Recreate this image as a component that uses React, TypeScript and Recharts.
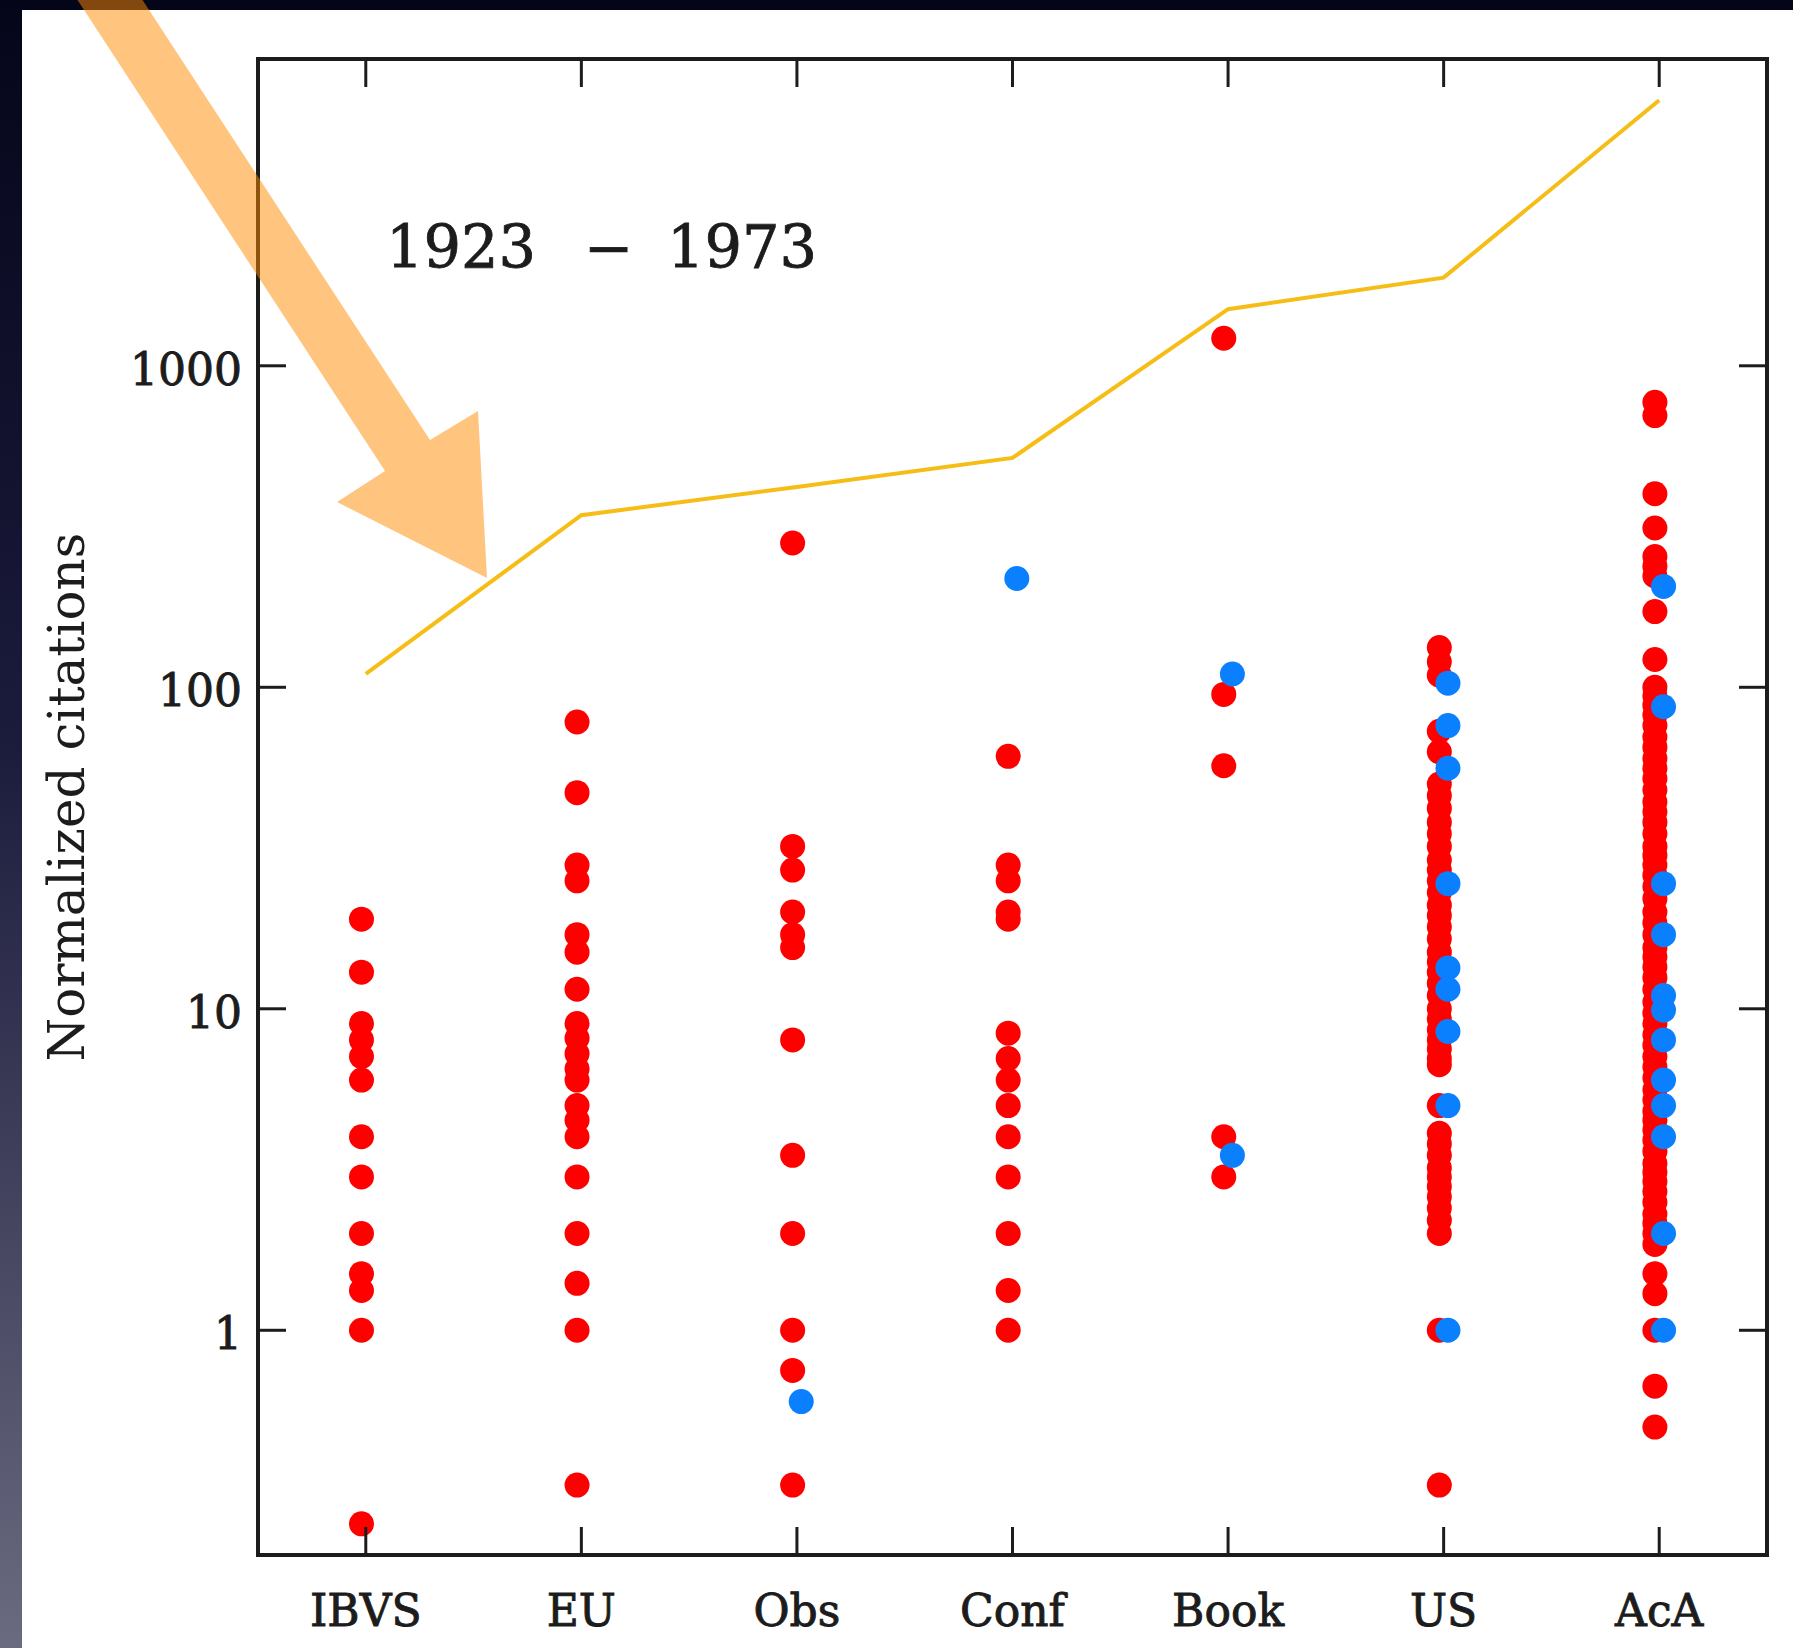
import React from 'react';
import { ScatterChart, Scatter, XAxis, YAxis, ReferenceArea } from 'recharts';

// journal groups along the x axis
const categories = ['IBVS', 'EU', 'Obs', 'Conf', 'Book', 'US', 'AcA'];

// upper envelope (yellow line), one value per group
const maxLine = [110, 343, 420, 517, 1500, 1880, 6700];

// red dots, per group
const ibvsRed = [19, 13, 9, 8, 7.1, 6, 4, 3, 2, 1.5, 1.33, 1, 0.25];
const euRed = [78, 47, 28, 25, 17, 15, 11.5, 9, 8.1, 7.25, 6.5, 6, 5, 4.5, 4, 3, 2, 1.4, 1, 0.33];
const obsRed = [281, 32, 27, 20, 17, 15.5, 8, 3.5, 2, 1, 0.75, 0.33];
const confRed = [61, 28, 25, 20, 19, 8.4, 7, 6, 5, 4, 3, 2, 1.33, 1];
const bookRed = [1218, 95, 57, 4, 3];
const usRed = [
  133, 120, 109, 73, 63, 50, 46, 42, 38, 35, 32, 29, 27, 25, 23, 21, 19.5, 18, 16.5, 15, 14, 13, 12, 11,
  10, 9.3, 8.6, 8, 7.5, 7, 6.7, 5, 4.1, 3.8, 3.5, 3.2, 3, 2.8, 2.6, 2.4, 2.2, 2, 1, 0.33,
];
const acaRed = [
  770, 700, 400, 313, 255, 238, 222, 172, 122, 100, 94, 88, 82, 76, 70, 65, 60, 56, 52, 48, 44, 41, 38,
  35, 32, 30, 28, 26, 24, 22, 20, 18.5, 17, 15.5, 14.5, 13.5, 12.5, 11.5, 10.5, 9.7, 9, 8.3, 7.7, 7.1,
  6.6, 6.1, 5.6, 5.2, 4.8, 4.5, 4.2, 3.9, 3.6, 3.3, 3.1, 2.9, 2.7, 2.5, 2.3, 2.15, 2, 1.85, 1.5, 1.3, 1,
  0.67, 0.5,
];

// blue dots, per group
const obsBlue = [0.6];
const confBlue = [218];
const bookBlue = [110, 3.5];
const usBlue = [103, 76, 56, 24.5, 13.4, 11.5, 8.5, 5, 1];
const acaBlue = [206, 87, 24.5, 17, 11, 9.9, 8, 6, 5, 4, 2, 1];

const yTicks = [1, 10, 100, 1000];

const W = 1793;
const H = 1648;
const PLOT_L = 258;
const PLOT_T = 59;
const PLOT_R = 1767;
const PLOT_B = 1555;
const PLOT_W = PLOT_R - PLOT_L;
const PLOT_H = PLOT_B - PLOT_T;
const TICK = 28;
const FONT = "'DejaVu Serif', serif";
const INK = '#1c1c1c';

const redByCat = [ibvsRed, euRed, obsRed, confRed, bookRed, usRed, acaRed];
const blueByCat = [[], [], obsBlue, confBlue, bookBlue, usBlue, acaBlue];

const redPoints = redByCat.flatMap((vals, i) => vals.map((v) => ({ x: i - 0.02, y: v })));
const bluePoints = blueByCat.flatMap((vals, i) => vals.map((v) => ({ x: i + 0.02, y: v })));
const linePoints = maxLine.map((v, i) => ({ x: i, y: v }));

const XTick = (props: any) => {
  const { x, y, payload } = props;
  return (
    <g>
      <line x1={x} y1={y} x2={x} y2={y - TICK} stroke={INK} strokeWidth={3} />
      <line x1={x} y1={y - PLOT_H} x2={x} y2={y - PLOT_H + TICK} stroke={INK} strokeWidth={3} />
      <text
        x={x}
        y={y + 71}
        textAnchor="middle"
        fontFamily={FONT}
        fontSize={44}
        fill={INK}
        stroke={INK}
        strokeWidth={0.9}
      >
        {categories[payload.value]}
      </text>
    </g>
  );
};

const YTick = (props: any) => {
  const { x, y, payload } = props;
  return (
    <g>
      <line x1={x} y1={y} x2={x + TICK} y2={y} stroke={INK} strokeWidth={3} />
      <line x1={x + PLOT_W - TICK} y1={y} x2={x + PLOT_W} y2={y} stroke={INK} strokeWidth={3} />
      <text
        x={x - 16}
        y={y + 19}
        textAnchor="end"
        fontFamily={FONT}
        fontSize={44}
        fill={INK}
        stroke={INK}
        strokeWidth={0.9}
      >
        {payload.value}
      </text>
    </g>
  );
};

const redDot = (p: any) => <circle cx={p.cx} cy={p.cy} r={12.5} fill="#ff0000" />;
const blueDot = (p: any) => <circle cx={p.cx} cy={p.cy} r={12.5} fill="#0a80ff" />;
const noDot = () => <g />;

export default function App() {
  return (
    <div style={{ position: 'absolute', left: 0, top: 0, width: W, height: H, overflow: 'hidden' }}>
      {/* slide background */}
      <div
        style={{
          position: 'absolute',
          inset: 0,
          background: 'linear-gradient(to bottom, #05051a 0%, #1b1b3c 45%, #6a6a80 100%)',
        }}
      />
      <div style={{ position: 'absolute', left: 22, top: 10, right: 0, bottom: 0, background: '#ffffff' }} />

      {/* annotation texts */}
      <svg width={W} height={H} style={{ position: 'absolute', left: 0, top: 0 }}>
        <text fontFamily={FONT} fontSize={59} fill={INK} stroke={INK} strokeWidth={0.8} y={268}>
          <tspan x={386}>1923</tspan>
          <tspan x={584}>−</tspan>
          <tspan x={667}>1973</tspan>
        </text>
        <text
          x={84}
          y={797}
          transform="rotate(-90 84 797)"
          textAnchor="middle"
          fontFamily={FONT}
          fontSize={50}
          fill={INK}
        >
          Normalized citations
        </text>
      </svg>

      <div style={{ position: 'absolute', left: 0, top: 0 }}>
        <ScatterChart
          width={W}
          height={H}
          margin={{ top: PLOT_T, right: W - PLOT_R, bottom: 0, left: 0 }}
        >
          <XAxis
            type="number"
            dataKey="x"
            domain={[-0.5, 6.5]}
            ticks={[0, 1, 2, 3, 4, 5, 6]}
            allowDataOverflow
            interval={0}
            height={H - PLOT_B}
            axisLine={false}
            tickLine={false}
            tickSize={0}
            tickMargin={0}
            tick={<XTick />}
          />
          <YAxis
            type="number"
            dataKey="y"
            scale="log"
            domain={[0.2, 9000]}
            ticks={yTicks}
            allowDataOverflow
            interval={0}
            width={PLOT_L}
            axisLine={false}
            tickLine={false}
            tickSize={0}
            tickMargin={0}
            tick={<YTick />}
          />
          <ReferenceArea
            x1={-0.5}
            x2={6.5}
            y1={0.2}
            y2={9000}
            fill="none"
            fillOpacity={0}
            stroke={INK}
            strokeWidth={4}
            ifOverflow="visible"
          />
          <Scatter
            data={linePoints}
            line={{ stroke: '#f6bd16', strokeWidth: 4 }}
            lineType="joint"
            shape={noDot}
            isAnimationActive={false}
          />
          <Scatter data={redPoints} shape={redDot} isAnimationActive={false} />
          <Scatter data={bluePoints} shape={blueDot} isAnimationActive={false} />
        </ScatterChart>
      </div>

      {/* presenter's highlight arrow */}
      <svg width={W} height={H} style={{ position: 'absolute', left: 0, top: 0, pointerEvents: 'none' }}>
        <polygon
          points="71,-10 385,471 337,502 487,578 478,411 430,440 136,-10"
          fill="#ff8c00"
          fillOpacity={0.5}
        />
      </svg>
    </div>
  );
}
